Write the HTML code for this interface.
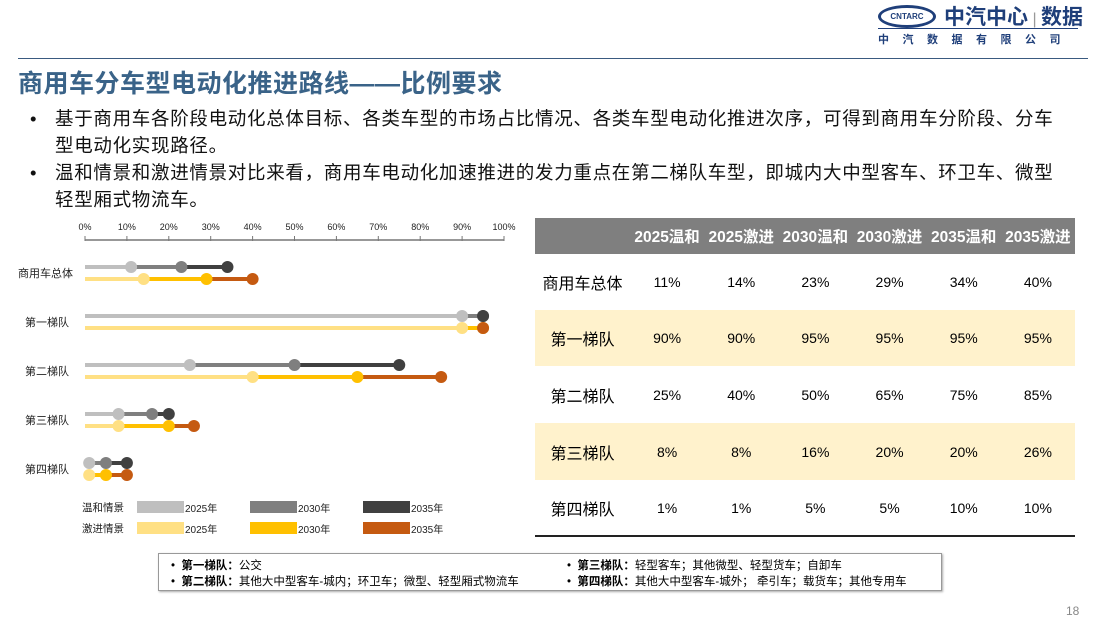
<!DOCTYPE html>
<html><head><meta charset="utf-8">
<style>
body{margin:0;width:1114px;height:624px;background:#fff;position:relative;overflow:hidden;font-family:"Liberation Sans","Noto Sans CJK SC",sans-serif;}
.abs{position:absolute;}
.title{left:18px;top:64px;font-size:25px;font-weight:bold;color:#3a6388;letter-spacing:0.5px;}
.bul{left:30px;font-size:18.5px;color:#111;line-height:27px;}
.bul span.d{position:absolute;left:0;}
.bul .t{position:absolute;left:25px;white-space:nowrap;letter-spacing:0.7px;}
table{border-collapse:collapse;}
td,th{padding:0;text-align:center;font-size:14px;}
th{background:#7f7f7f;color:#fff;font-size:15.5px;font-weight:bold;height:36px;}
td.l{font-size:16px;}
tr.y td{background:#fff2cc;}
.note{left:158px;top:553px;width:782px;height:36px;border:1px solid #999;box-shadow:1px 1px 2px #aaa;font-size:11.5px;}
.note div{position:absolute;white-space:nowrap;}
</style></head><body>
<div class="abs" style="left:878px;top:2px;width:220px;height:44px;">
 <div class="abs" style="left:0;top:3px;width:52px;height:17px;border:3px solid #1f3f7a;border-radius:50%;font-size:8px;font-weight:bold;color:#1f3f7a;text-align:center;line-height:17px;">CNTARC</div>
 <div class="abs" style="left:66px;top:-1px;font-size:21px;font-weight:bold;color:#1f3f7a;white-space:nowrap;">中汽中心<span style="color:#999;font-weight:normal;font-size:16px;"> | </span>数据</div>
 <div class="abs" style="left:0;top:26px;width:200px;border-top:1px solid #1f3f7a;"></div>
 <div class="abs" style="left:0;top:29px;width:204px;font-size:11px;font-weight:bold;color:#1f3f7a;letter-spacing:13.5px;white-space:nowrap;">中汽数据有限公司</div>
</div>
<div class="abs" style="left:18px;top:58px;width:1070px;border-top:1px solid #3a5a80;"></div>
<div class="abs title">商用车分车型电动化推进路线——比例要求</div>
<div class="abs bul" style="top:105px;"><span class="d">•</span><div class="t">基于商用车各阶段电动化总体目标、各类车型的市场占比情况、各类车型电动化推进次序，可得到商用车分阶段、分车<br>型电动化实现路径。</div></div>
<div class="abs bul" style="top:159px;"><span class="d">•</span><div class="t">温和情景和激进情景对比来看，商用车电动化加速推进的发力重点在第二梯队车型，即城内大中型客车、环卫车、微型<br>轻型厢式物流车。</div></div>

<svg class="abs" style="left:0;top:0" width="530" height="545" id="chart"></svg>

<table class="abs" style="left:535px;top:218px;width:540px;border-bottom:2px solid #222;">
<tr style="height:36px"><th style="width:95px"></th><th>2025温和</th><th>2025激进</th><th>2030温和</th><th>2030激进</th><th>2035温和</th><th>2035激进</th></tr>
<tr style="height:56px"><td class="l">商用车总体</td><td>11%</td><td>14%</td><td>23%</td><td>29%</td><td>34%</td><td>40%</td></tr>
<tr class="y" style="height:56px"><td class="l">第一梯队</td><td>90%</td><td>90%</td><td>95%</td><td>95%</td><td>95%</td><td>95%</td></tr>
<tr style="height:57px"><td class="l">第二梯队</td><td>25%</td><td>40%</td><td>50%</td><td>65%</td><td>75%</td><td>85%</td></tr>
<tr class="y" style="height:57px"><td class="l">第三梯队</td><td>8%</td><td>8%</td><td>16%</td><td>20%</td><td>20%</td><td>26%</td></tr>
<tr style="height:56px"><td class="l">第四梯队</td><td>1%</td><td>1%</td><td>5%</td><td>5%</td><td>10%</td><td>10%</td></tr>
</table>

<div class="abs note">
 <div style="left:12px;top:3px;">•&nbsp;&nbsp;<b>第一梯队：</b>公交</div>
 <div style="left:12px;top:19px;">•&nbsp;&nbsp;<b>第二梯队：</b>其他大中型客车-城内；环卫车；微型、轻型厢式物流车</div>
 <div style="left:408px;top:3px;">•&nbsp;&nbsp;<b>第三梯队：</b>轻型客车；其他微型、轻型货车；自卸车</div>
 <div style="left:408px;top:19px;">•&nbsp;&nbsp;<b>第四梯队：</b>其他大中型客车-城外；&nbsp;牵引车；载货车；其他专用车</div>
</div>
<div class="abs" style="left:1066px;top:604px;font-size:12px;color:#888;">18</div>

<script>
const categories=["商用车总体","第一梯队","第二梯队","第三梯队","第四梯队"];
const mild2025=[11,90,25,8,1];
const mild2030=[23,95,50,16,5];
const mild2035=[34,95,75,20,10];
const aggr2025=[14,90,40,8,1];
const aggr2030=[29,95,65,20,5];
const aggr2035=[40,95,85,26,10];
const tickLabels=["0%","10%","20%","30%","40%","50%","60%","70%","80%","90%","100%"];
const legendYears=["2025年","2030年","2035年"];
const NS="http://www.w3.org/2000/svg";
const svg=document.getElementById('chart');
const x=v=>85+v*4.19;
const rowY=i=>267+i*49;
function mk(tag,attrs){const e=document.createElementNS(NS,tag);for(const k in attrs)e.setAttribute(k,attrs[k]);svg.appendChild(e);return e;}
let ax=mk('line',{x1:x(0),x2:x(100),y1:240,y2:240,stroke:'#777','stroke-width':1.5});


tickLabels.forEach((t,i)=>{
 const v=i*10;
 let tk=mk('line',{x1:x(v),x2:x(v),y1:236,y2:241,stroke:'#777','stroke-width':1});
 
 
 let tx=mk('text',{x:x(v),y:230,'font-size':9,'text-anchor':'middle',fill:'#222'});
 tx.textContent=t;
 
 
});
const grayC=['#bfbfbf','#7f7f7f','#404040'];
const yelC=['#ffe084','#ffc000','#c55a11'];
function series(vals,y,cols,nm){
 let prev=0;
 vals.forEach((v,k)=>{
  let ln=mk('line',{x1:x(prev),x2:x(v),y1:y,y2:y,stroke:cols[k],'stroke-width':4});
  
  
  prev=v;
 });
 vals.forEach((v,k)=>{
  let c=mk('circle',{cx:x(v),cy:y,r:6,fill:cols[k]});
  
  
 });
}
categories.forEach((c,i)=>{
 const y=rowY(i);
 let lb=mk('text',{x:i==0?18:25,y:y+10,'font-size':11,fill:'#222'});
 lb.textContent=c;
 
 
 series([mild2025[i],mild2030[i],mild2035[i]],y,grayC,'mild');
 series([aggr2025[i],aggr2030[i],aggr2035[i]],y+12,yelC,'aggressive');
});
[["温和情景",grayC,507],["激进情景",yelC,528]].forEach(([n,cols,y])=>{
 let t=mk('text',{x:82,y:y+4,'font-size':10.5,fill:'#222'});
 t.textContent=n;
 
 
 legendYears.forEach((yr,k)=>{
  let r=mk('rect',{x:137+k*113,y:y-6,width:47,height:12,fill:cols[k]});
  
  
  let tt=mk('text',{x:185+k*113,y:y+5,'font-size':10,fill:'#222'});
  tt.textContent=yr;
  
  
 });
});
</script>
</body></html>
